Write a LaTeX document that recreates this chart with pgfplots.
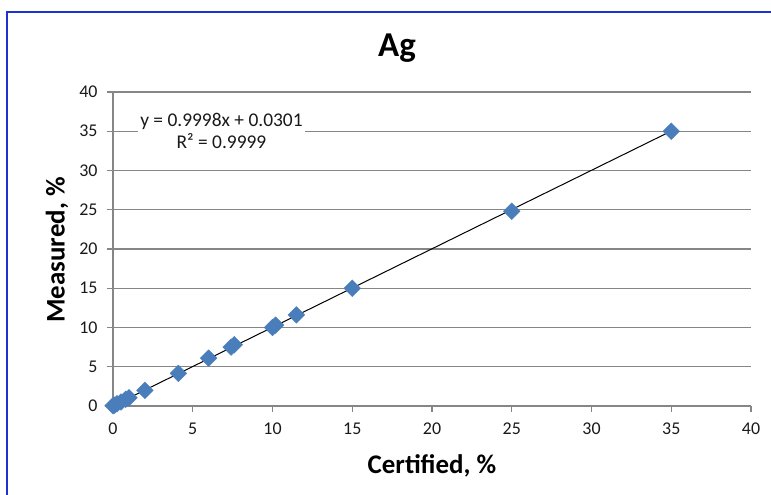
\documentclass[border=0pt]{standalone}
\usepackage{pgfplots}
\pgfplotsset{compat=1.18}
\usepackage{fontspec}
\setmainfont{Carlito}
\definecolor{mblue}{RGB}{74,126,187}
\definecolor{gridgray}{RGB}{134,134,134}
\definecolor{frameblue}{RGB}{30,50,205}
\begin{document}
\begin{tikzpicture}
\begin{axis}[
  name=main,
  anchor=origin, at={(0pt,0pt)},
  scale only axis, width=638bp, height=314bp,
  xmin=0, xmax=40, ymin=0, ymax=40,
  xtick={0,5,...,40}, ytick={0,5,...,40},
  axis lines=left,
  axis line style={-, draw=gridgray, line width=1.3bp},
  ymajorgrids,
  grid style={draw=gridgray, line width=1.3bp},
  tick align=outside,
  major tick length=6bp,
  tick style={draw=gridgray, line width=1.3bp},
  /pgf/number format/assume math mode=true,
  ticklabel style={font=\fontsize{18}{21}\selectfont, text=black!90},
  yticklabel style={xshift=-6bp},
  xticklabel style={yshift=-7bp},
  clip=false,
]
\addplot[black, line width=1bp, no marks] coordinates {(0,0.0301) (35,35.0231)};
\addplot[only marks, mark=square*, mark size=5.9bp, mark options={rotate=45, fill=mblue, draw=mblue}] coordinates {
(0,0.03) (0.1,0.1) (0.25,0.28) (0.5,0.5) (0.8,0.85) (1.0,1.05) (2,2) (4.1,4.15) (6,6.1) (7.4,7.5) (7.6,7.8) (10,10) (10.2,10.3) (11.5,11.6) (15,15) (25,24.8) (35,35)
};
\node[fill=white, align=center, inner sep=2bp, font=\fontsize{19.5}{22}\selectfont, text=black!90] at (axis cs:6.8,35) {y = 0.9998x + 0.0301\\R² = 0.9999};
\end{axis}
\begin{scope}[x=1bp,y=1bp,shift={(-113bp,-89bp)}]
\pgfresetboundingbox
\useasboundingbox (0,0) rectangle (771,495);
\draw[frameblue, line width=2.5bp] (7,-10) -- (7,483) -- (790,483);
\node[font=\bfseries\fontsize{35}{40}\selectfont] at (397,447) {Ag};
\node[font=\bfseries\fontsize{27}{30}\selectfont] at (432,29) {Certified, \%};
\node[font=\bfseries\fontsize{27}{30}\selectfont, rotate=90] at (57,245) {Measured, \%};
\end{scope}
\end{tikzpicture}
\end{document}
